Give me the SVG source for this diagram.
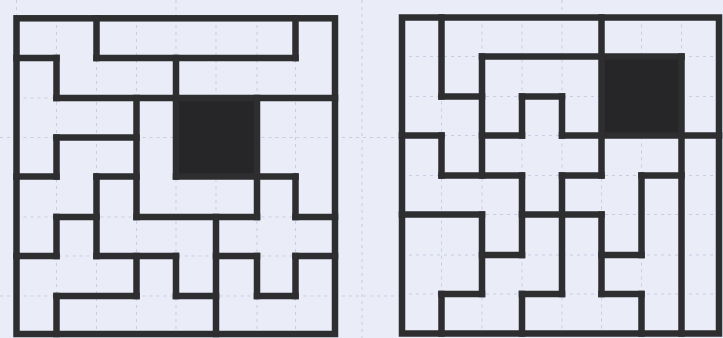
<svg xmlns="http://www.w3.org/2000/svg" width="723" height="338" viewBox="0 0 723 338">
<style>
.bg{fill:#eaecf8}
.faint{stroke:#c9cde2;stroke-width:1;stroke-dasharray:3 4;fill:none}
.wall{stroke:#2e2e30;stroke-width:6.5;stroke-linecap:square;fill:none}
.blk{fill:#262628}
</style>
<rect class="bg" x="0" y="0" width="723" height="338"/>
<g id="paper" class="faint">
<path d="M16.5 98H335M16.5 137.5H335M16.5 217H335M16.5 256H335M16.5 296H335M56.5 18V334M96.5 18V334M136.5 18V334M176 18V334M216 18V334M257 18V334M295.5 18V334"/>
<path d="M402 56.5H719M402 96.5H719M402 135.5H719M402 175.5H719M402 214.5H719M402 255H719M402 294H719M441.5 17.5V333.5M482 17.5V333.5M522 17.5V333.5M562 17.5V333.5M601.5 17.5V333.5M641.5 17.5V333.5M681.5 17.5V333.5"/>
<path d="M335 137.5H402M335 296H402M0 137.5H16.5M0 296H16.5M362 0V338M16.5 0V18M176 0V18M562 0V17.5"/>
</g>
<g id="left-grid">
<rect class="blk" x="176" y="98" width="81" height="78.5"/>
<rect class="wall" x="16.5" y="18.3" width="318.5" height="315.7"/>
<path class="wall" d="M16.5 58H56.5M96.5 58H295.5M56.5 98H335M56.5 137.5H136.5M16.5 176.5H56.5M96.5 176.5H136.5M176 176.5H295.5M56.5 217H96.5M136.5 217H257M295.5 217H335M16.5 256H56.5M96.5 256H176M216 256H257M295.5 256H335M56.5 296H136.5M176 296H216M257 296H295.5"/>
<path class="wall" d="M56.5 58V98M56.5 137.5V176.5M56.5 217V256M56.5 296V334M96.5 18.3V58M96.5 176.5V256M136.5 98V217M136.5 256V296M176 58V176.5M176 256V296M216 217V334M257 98V217M257 256V296M295.5 18.3V58M295.5 176.5V217M295.5 256V296"/>
</g>
<g id="right-grid">
<rect class="blk" x="601.5" y="56.5" width="80" height="79"/>
<rect class="wall" x="402" y="17.5" width="317" height="316"/>
<path class="wall" d="M482 56.5H681.5M441.5 96.5H482M522 96.5H562M402 135.5H441.5M482 135.5H522M562 135.5H719M441.5 175.5H522M562 175.5H601.5M641.5 175.5H681.5M402 214.5H482M522 214.5H601.5M482 255H522M601.5 255H641.5M441.5 294H482M522 294H562M601.5 294H641.5"/>
<path class="wall" d="M441.5 17.5V96.5M441.5 135.5V175.5M441.5 294V333.5M482 56.5V175.5M482 214.5V294M522 96.5V135.5M522 175.5V255M522 294V333.5M562 96.5V135.5M562 175.5V294M601.5 17.5V175.5M601.5 214.5V294M641.5 175.5V255M641.5 294V333.5M681.5 56.5V333.5"/>
</g>
</svg>
